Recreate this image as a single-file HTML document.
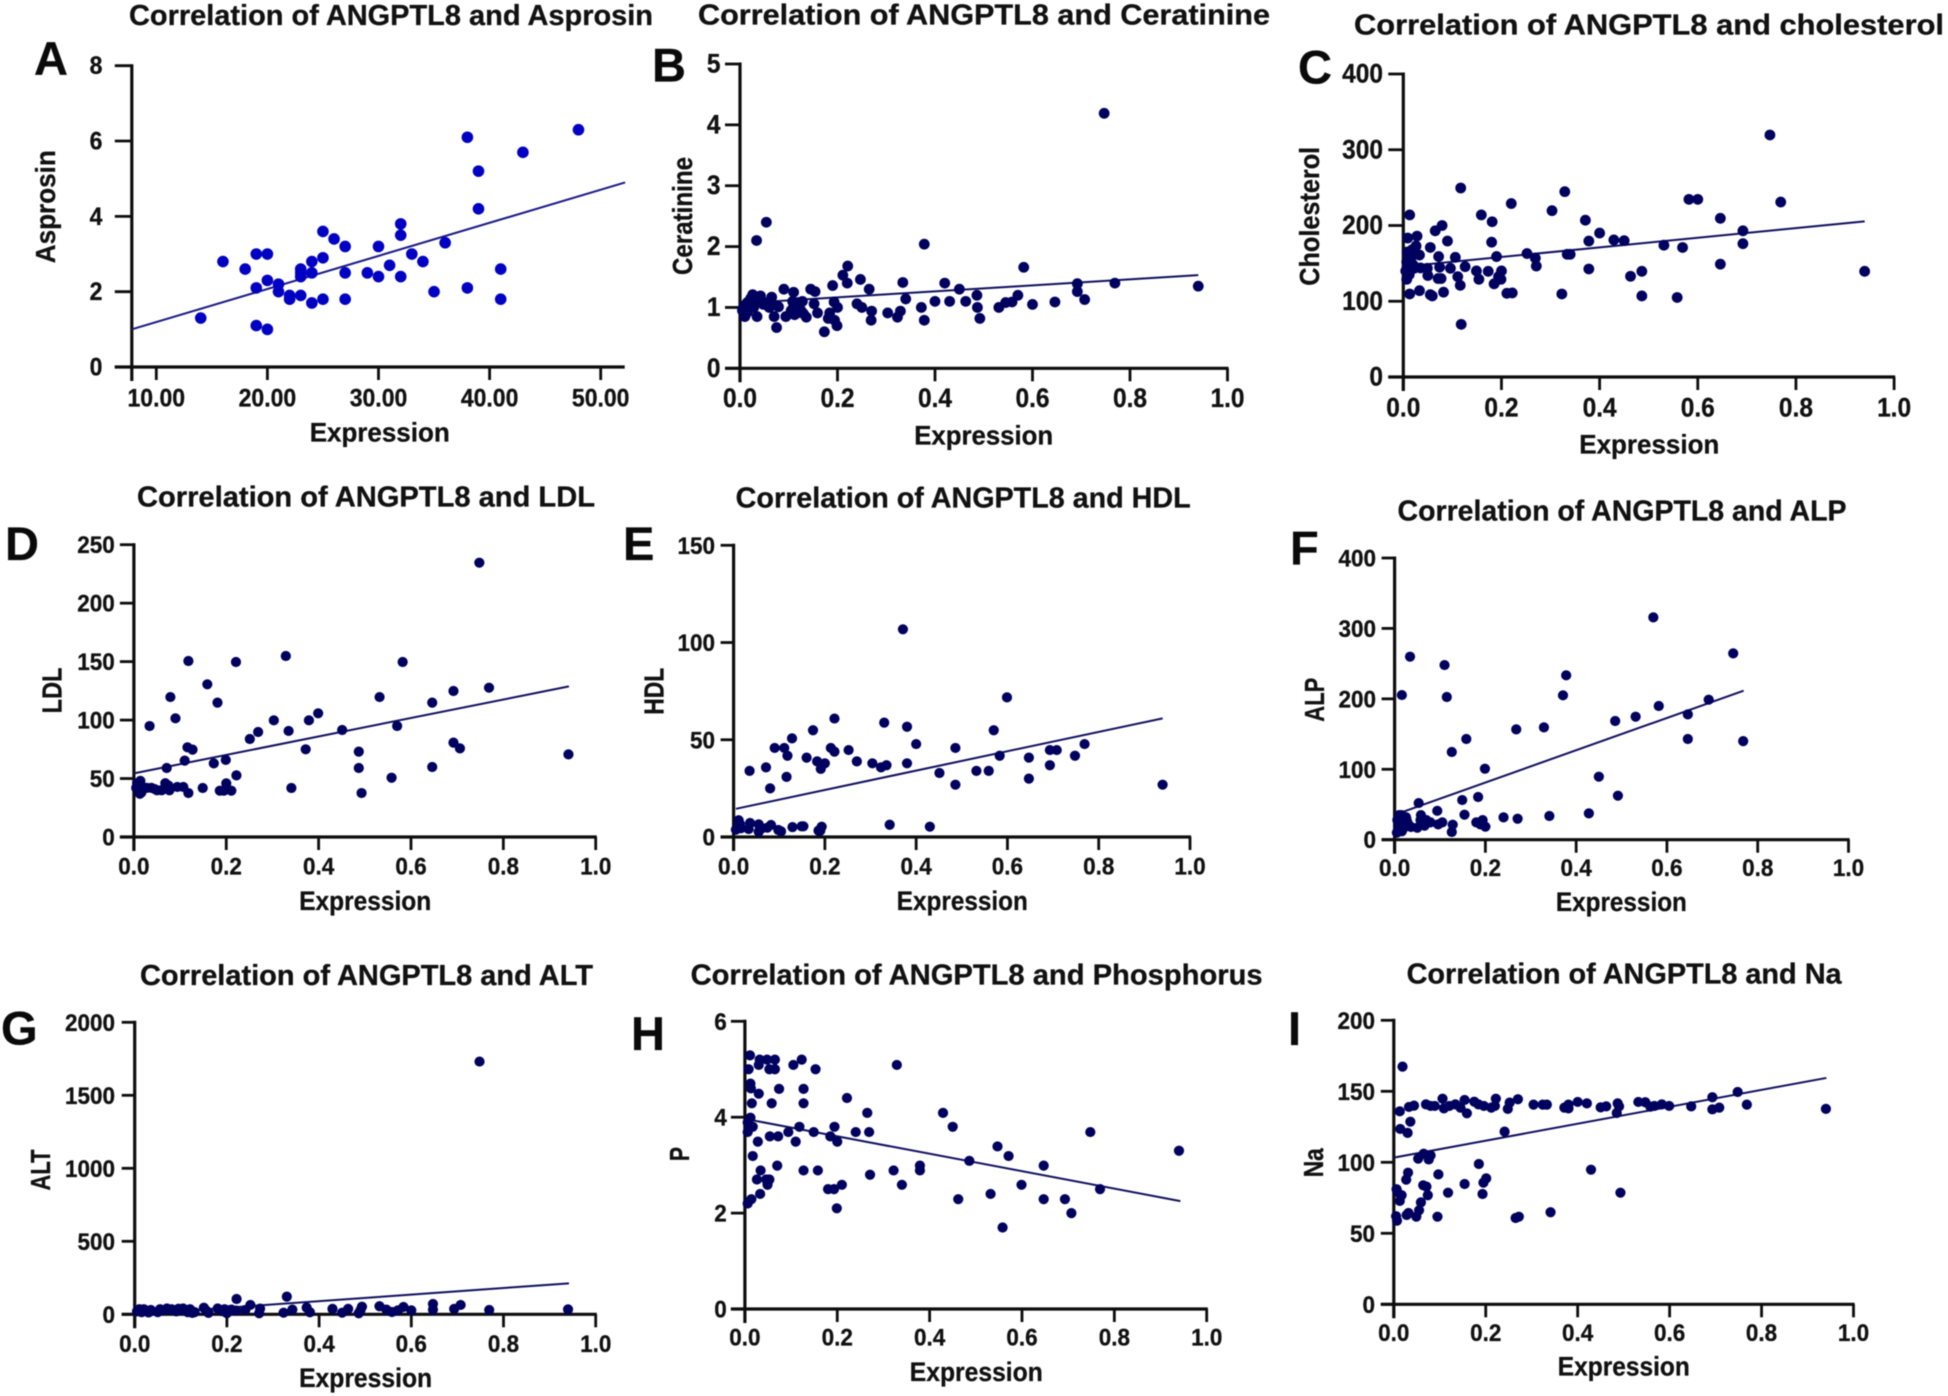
<!DOCTYPE html>
<html lang="en">
<head>
<meta charset="utf-8">
<title>Correlation of ANGPTL8 panels</title>
<style>
html,body{margin:0;padding:0;background:#fff;}
svg{display:block;filter:blur(0.5px);}
text{font-family:"Liberation Sans",Arial,sans-serif;font-weight:700;fill:#111;stroke:#111;stroke-width:0.3px;}
.title{font-size:28.5px;}
.letter{font-size:47px;fill:#0a0a0a;}
.axis-title{font-size:26.5px;}
.y-title{font-size:28px;}
</style>
</head>
<body>
<svg id="figure" xmlns="http://www.w3.org/2000/svg" width="1948" height="1396" viewBox="0 0 1948 1396">
<rect width="1948" height="1396" fill="#fff"/>

<text class="title" x="129" y="25" textLength="524" lengthAdjust="spacingAndGlyphs">Correlation of ANGPTL8 and Asprosin</text>
<text class="title" x="698" y="24.3" textLength="572" lengthAdjust="spacingAndGlyphs">Correlation of ANGPTL8 and Ceratinine</text>
<text class="title" x="1354" y="34.7" textLength="590" lengthAdjust="spacingAndGlyphs">Correlation of ANGPTL8 and cholesterol</text>
<text class="title" x="137" y="506.7" textLength="458" lengthAdjust="spacingAndGlyphs">Correlation of ANGPTL8 and LDL</text>
<text class="title" x="735.7" y="507.7" textLength="455" lengthAdjust="spacingAndGlyphs">Correlation of ANGPTL8 and HDL</text>
<text class="title" x="1397.5" y="520.7" textLength="449" lengthAdjust="spacingAndGlyphs">Correlation of ANGPTL8 and ALP</text>
<text class="title" x="140" y="985" textLength="453" lengthAdjust="spacingAndGlyphs">Correlation of ANGPTL8 and ALT</text>
<text class="title" x="690.6" y="984.3" textLength="572" lengthAdjust="spacingAndGlyphs">Correlation of ANGPTL8 and Phosphorus</text>
<text class="title" x="1406.6" y="983.7" textLength="435" lengthAdjust="spacingAndGlyphs">Correlation of ANGPTL8 and Na</text>

<text class="letter" x="34" y="75">A</text>
<text class="letter" x="652" y="81.7">B</text>
<text class="letter" x="1298" y="83.3">C</text>
<text class="letter" x="5" y="560">D</text>
<text class="letter" x="623" y="560">E</text>
<text class="letter" x="1290" y="564.3">F</text>
<text class="letter" x="1" y="1044.3">G</text>
<text class="letter" x="631" y="1050">H</text>
<text class="letter" x="1288" y="1045">I</text>

<text class="y-title" transform="translate(55,206.7) rotate(-90)" text-anchor="middle" textLength="113" lengthAdjust="spacingAndGlyphs">Asprosin</text>
<text class="y-title" transform="translate(692,216) rotate(-90)" text-anchor="middle" textLength="118" lengthAdjust="spacingAndGlyphs">Ceratinine</text>
<text class="y-title" transform="translate(1319,216.3) rotate(-90)" text-anchor="middle" textLength="139" lengthAdjust="spacingAndGlyphs">Cholesterol</text>
<text class="y-title" transform="translate(61.5,690.5) rotate(-90)" text-anchor="middle" textLength="46" lengthAdjust="spacingAndGlyphs">LDL</text>
<text class="y-title" transform="translate(663.5,691.3) rotate(-90)" text-anchor="middle" textLength="47" lengthAdjust="spacingAndGlyphs">HDL</text>
<text class="y-title" transform="translate(1324,699.7) rotate(-90)" text-anchor="middle" textLength="44" lengthAdjust="spacingAndGlyphs">ALP</text>
<text class="y-title" transform="translate(50,1170) rotate(-90)" text-anchor="middle" textLength="41" lengthAdjust="spacingAndGlyphs">ALT</text>
<text class="y-title" transform="translate(689,1154) rotate(-90)" text-anchor="middle" textLength="14" lengthAdjust="spacingAndGlyphs">P</text>
<text class="y-title" transform="translate(1323,1162.7) rotate(-90)" text-anchor="middle" textLength="29" lengthAdjust="spacingAndGlyphs">Na</text>

<text class="axis-title" x="379.7" y="441.7" text-anchor="middle" textLength="140" lengthAdjust="spacingAndGlyphs">Expression</text>
<text class="axis-title" x="983.7" y="444.3" text-anchor="middle" textLength="139" lengthAdjust="spacingAndGlyphs">Expression</text>
<text class="axis-title" x="1649.3" y="453.7" text-anchor="middle" textLength="140" lengthAdjust="spacingAndGlyphs">Expression</text>
<text class="axis-title" x="365.2" y="910" text-anchor="middle" textLength="132" lengthAdjust="spacingAndGlyphs">Expression</text>
<text class="axis-title" x="962.3" y="910" text-anchor="middle" textLength="131" lengthAdjust="spacingAndGlyphs">Expression</text>
<text class="axis-title" x="1621.4" y="911" text-anchor="middle" textLength="131" lengthAdjust="spacingAndGlyphs">Expression</text>
<text class="axis-title" x="365.6" y="1387" text-anchor="middle" textLength="133" lengthAdjust="spacingAndGlyphs">Expression</text>
<text class="axis-title" x="976.3" y="1381" text-anchor="middle" textLength="133" lengthAdjust="spacingAndGlyphs">Expression</text>
<text class="axis-title" x="1623.8" y="1375.3" text-anchor="middle" textLength="132" lengthAdjust="spacingAndGlyphs">Expression</text>
</svg>

<script>
// ---- Tick labels ----
const aXTickLabels = ['10.00','20.00','30.00','40.00','50.00'];
const aYTickLabels = ['0','2','4','6','8'];
const bXTickLabels = ['0.0','0.2','0.4','0.6','0.8','1.0'];
const bYTickLabels = ['0','1','2','3','4','5'];
const cYTickLabels = ['0','100','200','300','400'];
const dYTickLabels = ['0','50','100','150','200','250'];
const eYTickLabels = ['0','50','100','150'];
const fYTickLabels = ['0','100','200','300','400'];
const gYTickLabels = ['0','500','1000','1500','2000'];
const hYTickLabels = ['0','2','4','6'];
const iYTickLabels = ['0','50','100','150','200'];

// ---- Panel A: Asprosin ----
const aExpression = [14,16,18,19,20,19,20,21,21,22,22,23,23,23,23,24,24,24,25,25,25,26,27,27,27,29,30,30,31,32,32,32,33,34,35,36,38,38,39,39,41,41,43,48,19,20];
const aAsprosin = [1.3,2.8,2.6,3.0,3.0,2.1,2.3,2.2,2.0,1.9,1.8,1.9,2.6,2.5,2.4,2.8,2.5,1.7,3.6,2.9,1.8,3.4,3.2,2.5,1.8,2.5,3.2,2.4,2.7,3.8,3.5,2.4,3.0,2.8,2.0,3.3,6.1,2.1,5.2,4.2,2.6,1.8,5.7,6.3,1.1,1.0];
const aFitX = [7.8,52.2];
const aFitY = [1.0,4.9];

// ---- Panel B: Ceratinine ----
const bExpression = [.747,.054,.034,.378,.221,.582,.211,.247,.22,.334,.42,.692,.769,.94,.19,.45,.265,.09,.145,.154,.11,.692,.57,.486,.026,.042,.065,.34,.707,.4,.43,.463,.558,.545,.646,.193,.6,.24,.25,.372,.487,.531,.2,.329,.27,.303,.323,.269,.378,.492,.159,.152,.136,.184,.181,.194,.199,.173,.075,.07,.094,.035,.079,.07,.058,.005,.008,.01,.012,.015,.018,.02,.022,.008,.012,.015,.025,.03,.028,.04,.048,.05,.055,.06,.105,.11,.115,.12,.125,.128,.13,.118,.108,.112];
const bCeratinine = [4.19,2.40,2.10,2.04,1.68,1.66,1.53,1.46,1.40,1.41,1.40,1.39,1.40,1.35,1.36,1.30,1.30,1.30,1.30,1.26,1.25,1.26,1.2,1.2,1.21,1.19,1.17,1.14,1.13,1.1,1.1,1.1,1.09,1.08,1.09,1.09,1.05,1.06,1.0,1.0,1.0,1.0,1.0,.94,.94,.91,.84,.79,.79,.82,.91,1.06,.84,.91,.82,.79,.70,.60,.67,.85,.85,.85,1.01,1.04,1.06,.95,1.0,.85,1.05,.92,1.1,1.0,1.15,1.02,.9,1.08,1.05,1.1,1.0,1.1,1.05,1.08,1.05,1.0,.95,1.05,.9,1.08,.95,1.1,.9,1.0,1.1,.88];
const bFitX = [.005,.94];
const bFitY = [1.07,1.53];

// ---- Panel C: Cholesterol ----
const cExpression = [.747,.117,.329,.22,.769,.582,.6,.303,.013,.159,.181,.646,.371,.079,.065,.692,.4,.028,.009,.09,.18,.378,.429,.45,.026,.055,.531,.569,.692,.018,.014,.033,.072,.106,.19,.252,.334,.34,.269,.271,.126,.074,.096,.008,.022,.035,.049,.378,.646,.149,.173,.2,.486,.94,.463,.111,.199,.154,.194,.071,.077,.007,.05,.185,.116,.033,.082,.013,.055,.059,.211,.222,.323,.486,.558,.118,.007,.005,.01,.012,.016,.02,.008];
const cCholesterol = [319.5,249.5,244.7,229,231,234.5,234.5,219.6,214,214,205,209.5,207,200,193,193,190,186,183.5,179.5,178,179.5,181,180,173,171,174,171,176,168,161,161,159,158,159,163,162,162,157,146.5,145.7,145,143.5,145,143.5,144,143.5,142.6,149,140,139.5,140,139.5,139.5,133,132.5,129,129,132.5,130,130,129,134,123,121,114,112,109.6,108.7,107,110.5,111,109.6,107,105,69.5,152,140,150,135,158,148,165];
const cFitX = [.005,.94];
const cFitY = [146,205.5];

// ---- Panel D: LDL ----
const dExpression = [.748,.329,.118,.221,.582,.159,.769,.692,.079,.532,.181,.646,.09,.034,.57,.303,.379,.399,.335,.269,.251,.451,.116,.127,.372,.692,.706,.487,.11,.199,.173,.071,.487,.646,.941,.558,.222,.2,.493,.341,.149,.118,.107,.094,.186,.195,.211,.005,.007,.01,.012,.014,.016,.018,.013,.011,.028,.05,.06,.065,.068,.07,.075,.077,.038,.045];
const dLDL = [234.6,154.8,150.5,149.7,149.7,130.6,127.7,124.9,119.7,119.7,114.9,114.9,101.5,94.9,94.9,99.8,99.8,105.8,90.7,89.8,83.8,91.5,76.7,74.7,75,80.7,75.8,73,65.3,65.9,63,59,59,59.9,70.7,50.7,52.7,45.9,37.6,41.9,41.9,37.6,42.8,42.8,39.6,39.6,39.6,42,46,40,44,48,38,43,37,45,42,40,40,41,46,42,44,40,42,41];
const dFitX = [0,.942];
const dFitY = [54.4,128.8];

// ---- Panel E: HDL ----
const eExpression = [.371,.599,.221,.33,.38,.174,.57,.128,.4,.769,.09,.111,.213,.486,.221,.252,.693,.708,.118,.583,.748,.16,.647,.183,.27,.2,.304,.38,.335,.323,.071,.693,.191,.035,.451,.532,.559,.116,.647,.08,.486,.94,.342,.43,.153,.149,.129,.193,.19,.186,.104,.098,.082,.074,.055,.055,.062,.036,.033,.011,.014,.016,.005];
const eHDL = [106.8,71.8,60.9,58.8,56.7,54.9,54.9,50.7,47.8,47.8,45.8,45.8,45.8,45.8,43.9,44.7,44.7,44.7,41.8,41.8,41.8,40.8,40.8,38.9,38.9,37.9,37.9,37.9,36.9,35.8,35.8,36.9,35,34,32.9,34,34,30.9,30,25,26.9,26.9,6.3,5.3,5.5,5.5,5.1,5.3,3.3,3.3,2.9,3.6,6.2,4.8,6.5,2.7,4.5,7.2,4.1,8.6,6.7,4.5,3.8];
const eFitX = [.005,.94];
const eFitY = [14.5,61];

// ---- Panel F: ALP ----
const fExpression = [.57,.746,.034,.11,.378,.016,.371,.115,.692,.582,.531,.646,.486,.329,.268,.158,.646,.768,.126,.199,.45,.492,.184,.149,.053,.094,.428,.154,.341,.24,.271,.194,.18,.128,.189,.2,.126,.105,.096,.079,.07,.058,.057,.066,.05,.036,.026,.005,.008,.01,.012,.013,.015,.016,.018,.02,.02,.022,.025,.028,.03,.006,.01,.014,.018];
const fALP = [315.7,264.6,259.9,248,233.4,205.4,205,202.6,198.8,189.8,174.7,178,168.5,159.5,156.7,143,143,140,124.5,100.8,89.5,62.5,60.6,56.3,52,41,37.4,35.5,33.6,31.7,29.8,27.9,24.6,21.3,21.8,18.5,10.9,24.6,21.8,24.6,27.9,35,27.9,19.9,17,18,30,10,15,20,25,30,35,12,33,28,18,22,32,25,22,28,35,24,15];
const fFitX = [.007,.769];
const fFitY = [37,211.6];

// ---- Panel G: ALT ----
const gExpression = [.748,.33,.221,.94,.769,.707,.693,.647,.647,.6,.583,.571,.558,.546,.531,.493,.486,.49,.463,.45,.429,.38,.373,.342,.323,.272,.27,.251,.24,.22,.005,.01,.015,.02,.03,.035,.05,.055,.06,.07,.075,.08,.09,.095,.1,.105,.11,.115,.12,.125,.13,.15,.155,.16,.18,.19,.195,.2,.205,.21];
const gALT = [1731,121,105,34,30,64,37,71,32,27,50,27,16,32,55,52,7,30,37,11,37,14,46,32,11,39,7,64,30,25,20,35,15,35,12,30,15,35,25,40,30,35,20,38,30,40,25,15,35,10,15,45,25,10,40,22,35,8,28,32];
const gFitX = [0,.942];
const gFitY = [0,212];

// ---- Panel H: Phosphorus ----
const hExpression = [.011,.032,.048,.065,.123,.03,.105,.329,.008,.053,.065,.153,.012,.013,.074,.127,.03,.221,.015,.058,.127,.265,.429,.012,.006,.017,.118,.194,.45,.006,.094,.149,.24,.269,.748,.054,.072,.185,.028,.11,.2,.547,.017,.571,.94,.486,.07,.379,.647,.034,.127,.158,.322,.379,.271,.026,.046,.053,.049,.21,.34,.599,.18,.193,.769,.033,.532,.014,.462,.647,.693,.006,.199,.707,.558];
const hPhosphorus = [5.29,5.2,5.2,5.2,5.2,5.09,5.09,5.09,5,5,5,5,4.7,4.6,4.59,4.59,4.49,4.4,4.29,4.29,4.29,4.09,4.09,3.99,3.89,3.8,3.8,3.8,3.8,3.69,3.69,3.69,3.69,3.69,3.69,3.6,3.6,3.6,3.49,3.49,3.49,3.39,3.19,3.19,3.3,3.09,2.99,2.99,2.99,2.89,2.89,2.89,2.89,2.89,2.8,2.7,2.7,2.7,2.59,2.59,2.59,2.59,2.5,2.5,2.5,2.4,2.4,2.29,2.29,2.29,2.29,2.2,2.1,2,1.7];
const hFitX = [.014,.943];
const hFitY = [3.94,2.25];

// ---- Panel I: Na ----
const iExpression = [.019,.748,.106,.154,.222,.27,.693,.013,.033,.044,.07,.08,.089,.109,.121,.134,.145,.175,.184,.196,.212,.22,.252,.248,.159,.304,.324,.333,.371,.38,.38,.4,.42,.45,.462,.487,.49,.485,.532,.547,.558,.567,.583,.599,.647,.693,.708,.768,.94,.036,.014,.03,.241,.053,.065,.076,.08,.185,.429,.031,.097,.027,.201,.195,.154,.064,.071,.006,.008,.017,.074,.118,.193,.493,.013,.059,.341,.032,.055,.028,.049,.095,.265,.272,.005,.007];
const iNa = [167.4,149.5,144.8,143.9,144.8,144.4,145.8,135.9,139,139.9,140.8,139.7,139.7,138,139.7,140.8,138.5,142.7,140.8,139.7,138.5,139.7,142,137.6,134.5,140.6,140.6,140.6,138.5,140.6,138,142.5,141.5,138.7,139.4,141.5,139.4,134.7,142.5,142.3,139.2,139.7,140.8,139.7,139.4,137.3,138.5,140.6,137.6,128.6,123.5,120.7,121.6,102.6,106,102,104.9,98.8,94.8,92.7,91.5,87.8,88.7,85.7,84.7,83.8,82.9,81,79,76.8,76.8,78.6,77.7,78.6,72.8,71.8,64.8,64.3,66.2,62.9,61.7,61.7,60.8,61.7,62,58.9];
const iFitX = [0,.941];
const iFitY = [103.3,159.4];

const svgNS = 'http://www.w3.org/2000/svg';
const figure = document.getElementById('figure');
const INK = '#0d0d0d';
const CONDENSE = 0.92;

function linearScale(domain, range) {
  return function (v) {
    return range[0] + (v - domain[0]) / (domain[1] - domain[0]) * (range[1] - range[0]);
  };
}

function makeLine(parent, x1, y1, x2, y2, color, width) {
  const el = document.createElementNS(svgNS, 'line');
  el.setAttribute('x1', x1);
  el.setAttribute('y1', y1);
  el.setAttribute('x2', x2);
  el.setAttribute('y2', y2);
  el.setAttribute('stroke', color);
  el.setAttribute('stroke-width', width);
  parent.appendChild(el);
  return el;
}

function condense(t) {
  const w = t.getComputedTextLength();
  t.setAttribute('lengthAdjust', 'spacingAndGlyphs');
  t.setAttribute('textLength', (w * CONDENSE).toFixed(2));
}

function drawPanel(id, series, layout) {
  const g = document.createElementNS(svgNS, 'g');
  
  
  figure.appendChild(g);

  const xScale = linearScale(layout.xDomain, layout.xRange);
  const yScale = linearScale(layout.yDomain, layout.yRange);
  const y0 = layout.yRange[0];
  const yTop = layout.yRange[1];
  const axisX = layout.axisX;
  const tickFont = layout.tickFont / CONDENSE;

  const yAxis = makeLine(g, axisX, yTop - 1.5, axisX, y0 + 14, INK, 3.2);
  
  
  const xAxis = makeLine(g, axisX - layout.yTickLen, y0, layout.xEnd, y0, INK, 3.2);
  
  

  series.yTicks.forEach(function (label) {
    const y = yScale(parseFloat(label));
    const tick = makeLine(g, axisX - layout.yTickLen, y, axisX, y, INK, 2.8);
    
    
    const t = document.createElementNS(svgNS, 'text');
    t.setAttribute('x', layout.yLabelEnd);
    t.setAttribute('y', y + 8.5);
    t.setAttribute('text-anchor', 'end');
    t.setAttribute('font-size', tickFont);
    
    
    t.textContent = label;
    g.appendChild(t);
    condense(t);
  });

  series.xTicks.forEach(function (label) {
    const x = xScale(parseFloat(label));
    const tick = makeLine(g, x, y0, x, y0 + 13, INK, 2.8);
    
    
    const t = document.createElementNS(svgNS, 'text');
    t.setAttribute('x', x);
    t.setAttribute('y', y0 + layout.xLabelDrop + 0.5);
    t.setAttribute('text-anchor', 'middle');
    t.setAttribute('font-size', tickFont);
    
    
    t.textContent = label;
    g.appendChild(t);
    condense(t);
  });

  const fit = makeLine(g, xScale(series.fitX[0]), yScale(series.fitY[0]), xScale(series.fitX[1]), yScale(series.fitY[1]), layout.lineColor, 2);
  
  

  series.xs.forEach(function (xv, i) {
    const c = document.createElementNS(svgNS, 'circle');
    c.setAttribute('cx', xScale(xv));
    c.setAttribute('cy', yScale(series.ys[i]));
    c.setAttribute('r', layout.dotR);
    c.setAttribute('fill', layout.dotColor);
    
    
    g.appendChild(c);
  });
}

const NAVY = '#00005f';
const LINE = '#10105f';

drawPanel('a',
  {xs: aExpression, ys: aAsprosin, fitX: aFitX, fitY: aFitY, xTicks: aXTickLabels, yTicks: aYTickLabels},
  {xDomain: [10, 50], xRange: [156.3, 600.7], yDomain: [0, 8], yRange: [367, 65.7], axisX: 131.8, xEnd: 624.7, yTickLen: 17, yLabelEnd: 102.4, xLabelDrop: 39, tickFont: 23, dotR: 5.8, dotColor: '#0000c4', lineColor: '#1a1a86'});

drawPanel('b',
  {xs: bExpression, ys: bCeratinine, fitX: bFitX, fitY: bFitY, xTicks: bXTickLabels, yTicks: bYTickLabels},
  {xDomain: [0, 1], xRange: [740, 1227.5], yDomain: [0, 5], yRange: [368.3, 64], axisX: 740, xEnd: 1228.5, yTickLen: 15, yLabelEnd: 720.5, xLabelDrop: 38, tickFont: 24.5, dotR: 5.4, dotColor: NAVY, lineColor: LINE});

drawPanel('c',
  {xs: cExpression, ys: cCholesterol, fitX: cFitX, fitY: cFitY, xTicks: bXTickLabels, yTicks: cYTickLabels},
  {xDomain: [0, 1], xRange: [1403.3, 1894.1], yDomain: [0, 400], yRange: [377, 74], axisX: 1403.3, xEnd: 1895.2, yTickLen: 15, yLabelEnd: 1383, xLabelDrop: 39, tickFont: 24.5, dotR: 5.4, dotColor: NAVY, lineColor: LINE});

drawPanel('d',
  {xs: dExpression, ys: dLDL, fitX: dFitX, fitY: dFitY, xTicks: bXTickLabels, yTicks: dYTickLabels},
  {xDomain: [0, 1], xRange: [133.9, 595.7], yDomain: [0, 250], yRange: [837, 544.7], axisX: 133.9, xEnd: 596.8, yTickLen: 14, yLabelEnd: 114.8, xLabelDrop: 37, tickFont: 22.5, dotR: 5.1, dotColor: NAVY, lineColor: LINE});

drawPanel('e',
  {xs: eExpression, ys: eHDL, fitX: eFitX, fitY: eFitY, xTicks: bXTickLabels, yTicks: eYTickLabels},
  {xDomain: [0, 1], xRange: [733.6, 1190], yDomain: [0, 150], yRange: [837, 545.3], axisX: 733.6, xEnd: 1191.1, yTickLen: 13, yLabelEnd: 715, xLabelDrop: 37, tickFont: 22.5, dotR: 5.1, dotColor: NAVY, lineColor: LINE});

drawPanel('f',
  {xs: fExpression, ys: fALP, fitX: fFitX, fitY: fFitY, xTicks: bXTickLabels, yTicks: fYTickLabels},
  {xDomain: [0, 1], xRange: [1394.6, 1848.5], yDomain: [0, 400], yRange: [839.7, 558], axisX: 1394.6, xEnd: 1849.6, yTickLen: 13, yLabelEnd: 1376, xLabelDrop: 36, tickFont: 22.5, dotR: 5.1, dotColor: NAVY, lineColor: LINE});

drawPanel('g',
  {xs: gExpression, ys: gALT, fitX: gFitX, fitY: gFitY, xTicks: bXTickLabels, yTicks: gYTickLabels},
  {xDomain: [0, 1], xRange: [134.7, 595.7], yDomain: [0, 2000], yRange: [1314.3, 1022.3], axisX: 134.7, xEnd: 596.8, yTickLen: 13, yLabelEnd: 115, xLabelDrop: 37, tickFont: 22.5, dotR: 5.1, dotColor: NAVY, lineColor: LINE});

drawPanel('h',
  {xs: hExpression, ys: hPhosphorus, fitX: hFitX, fitY: hFitY, xTicks: bXTickLabels, yTicks: hYTickLabels},
  {xDomain: [0, 1], xRange: [744.9, 1206.7], yDomain: [0, 6], yRange: [1309, 1021.3], axisX: 744.9, xEnd: 1207.8, yTickLen: 14, yLabelEnd: 726.7, xLabelDrop: 36, tickFont: 22.5, dotR: 5.1, dotColor: NAVY, lineColor: LINE});

drawPanel('i',
  {xs: iExpression, ys: iNa, fitX: iFitX, fitY: iFitY, xTicks: bXTickLabels, yTicks: iYTickLabels},
  {xDomain: [0, 1], xRange: [1393.8, 1853.5], yDomain: [0, 200], yRange: [1304.3, 1020.3], axisX: 1393.8, xEnd: 1854.6, yTickLen: 13, yLabelEnd: 1375, xLabelDrop: 36, tickFont: 22.5, dotR: 5.1, dotColor: NAVY, lineColor: LINE});
</script>
</body>
</html>
